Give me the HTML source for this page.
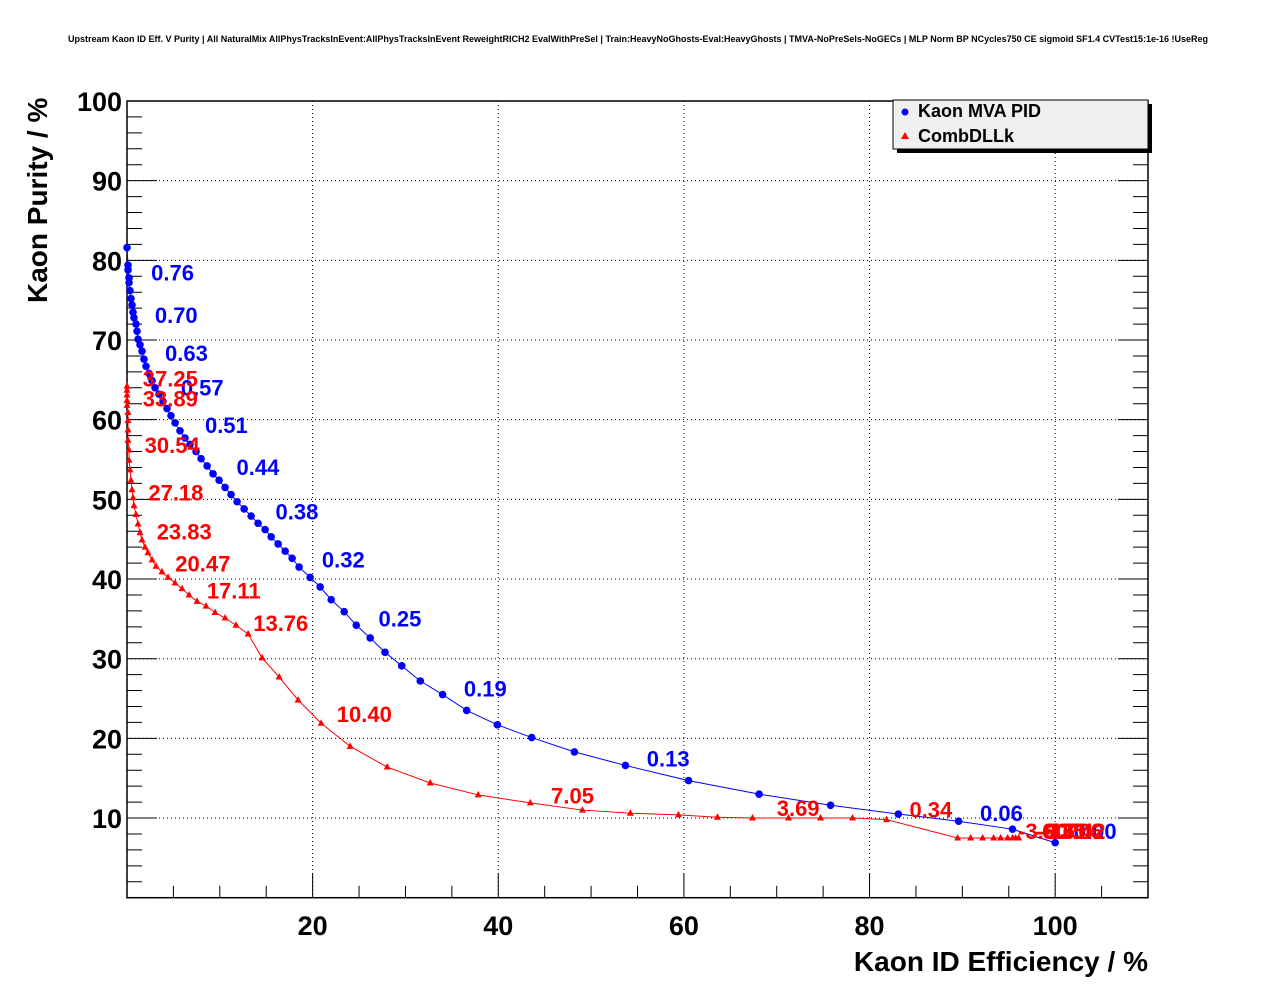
<!DOCTYPE html>
<html><head><meta charset="utf-8"><style>
body{margin:0;background:#fff}
svg text{font-family:"Liberation Sans",Arial,sans-serif;font-weight:bold}
</style></head><body>
<svg id="c" width="1276" height="996" xmlns="http://www.w3.org/2000/svg">
<text x="638" y="42" font-size="9" text-anchor="middle">Upstream Kaon ID Eff. V Purity | All NaturalMix AllPhysTracksInEvent:AllPhysTracksInEvent ReweightRICH2 EvalWithPreSel | Train:HeavyNoGhosts-Eval:HeavyGhosts | TMVA-NoPreSels-NoGECs | MLP Norm BP NCycles750 CE sigmoid SF1.4 CVTest15:1e-16 !UseReg</text>
<g id="grid"></g><g id="axes"></g><g id="series"></g>
<text transform="translate(47,303) rotate(-90)" font-size="28" text-anchor="start">Kaon Purity / %</text>
<text x="1148" y="971" font-size="28" text-anchor="end">Kaon ID Efficiency / %</text>
<g>
<rect x="897" y="104" width="255" height="49" fill="#000"/>
<rect x="893" y="100" width="255" height="49" fill="#f0f0f0" stroke="#000" stroke-width="1"/>
<circle cx="905" cy="112" r="3.5" fill="#0000ff"/>
<text x="918" y="117" font-size="18">Kaon MVA PID</text>
<polygon points="905,132 909,139 901,139" fill="#ff0000"/>
<text x="918" y="142" font-size="18">CombDLLk</text>
</g>
</svg>
<script>
const blueX=[0,0.11,0.11,0.22,0.22,0.32,0.43,0.54,0.65,0.75,0.97,1.08,1.19,1.40,1.62,1.83,2.05,2.37,2.70,3.02,3.45,3.88,4.31,4.74,5.18,5.71,6.25,6.79,7.44,7.98,8.63,9.27,9.92,10.57,11.21,11.86,12.62,13.37,14.12,14.88,15.53,16.28,17.04,17.79,18.54,19.73,20.81,22.0,23.4,24.7,26.2,27.8,29.6,31.6,34.0,36.6,39.9,43.6,48.2,53.7,60.5,68.1,75.8,83.1,89.6,95.4,100];
const blueY=[81.6,79.4,78.8,77.8,77.2,76.2,75.2,74.4,73.5,72.8,72.0,71.1,70.1,69.4,68.6,67.6,66.7,65.8,64.9,64.0,63.2,62.3,61.4,60.5,59.6,58.6,57.7,56.9,56.0,55.1,54.2,53.2,52.4,51.5,50.6,49.7,48.8,47.9,47.0,46.2,45.3,44.4,43.5,42.6,41.5,40.2,39.0,37.4,35.9,34.2,32.6,30.8,29.1,27.2,25.5,23.5,21.7,20.1,18.3,16.6,14.7,13.0,11.6,10.5,9.6,8.6,6.9];
const redX=[0,0,0,0,0,0.11,0.11,0.11,0.11,0.22,0.22,0.32,0.43,0.54,0.65,0.75,0.97,1.19,1.40,1.62,1.94,2.26,2.70,3.13,3.77,4.42,5.18,5.93,6.69,7.55,8.52,9.49,10.57,11.75,13.05,14.56,16.39,18.44,20.92,24.04,28.03,32.67,37.84,43.45,49.06,54.23,59.41,63.61,67.39,71.27,74.72,78.17,81.83,89.49,90.89,92.18,93.37,94.12,94.88,95.42,95.74,96.07];
const redY=[64.2,63.7,63.1,62.4,61.8,60.9,59.9,58.7,57.4,56.2,54.9,53.7,52.4,51.2,50.2,49.2,48.1,46.9,45.8,44.9,44.0,43.3,42.4,41.6,40.9,40.2,39.5,38.8,38.0,37.2,36.6,35.8,35.1,34.2,33.1,30.1,27.7,24.8,21.9,19.0,16.4,14.4,12.9,11.9,11.0,10.6,10.4,10.1,10.0,10.0,10.0,10.0,9.8,7.5,7.5,7.5,7.5,7.5,7.5,7.5,7.5,7.5];
const blueLabels=["0.76","0.70","0.63","0.57","0.51","0.44","0.38","0.32","0.25","0.19","0.13","0.06","0.00"];
const blueLabelX=[2.6,3.0,4.1,5.8,8.4,11.8,16.0,21.0,27.1,36.3,56.0,91.9,102.0];
const blueLabelY=[78.2,72.9,68.1,63.8,59.1,53.8,48.2,42.2,34.8,26.0,17.2,10.4,8.1];
const redLabels=["37.25","33.89","30.54","27.18","23.83","20.47","17.11","13.76","10.40","7.05","3.69","0.34","-3.00","-6.35","-9.71","-13.06","-16.42"];
const redLabelX=[1.7,1.7,1.9,2.3,3.2,5.2,8.6,13.6,22.6,45.7,70.0,84.3,96.0,97.8,98.1,98.4,98.7];
const redLabelY=[64.9,62.4,56.6,50.6,45.7,41.7,38.3,34.2,22.8,12.6,11.0,10.8,8.1,8.1,8.1,8.1,8.1];
const yTicks=[10,20,30,40,50,60,70,80,90,100];
const xTicks=[20,40,60,80,100];
const L=127,R=1148,T=101,B=897.7,XMAX=110,YMAX=100;
const sx=v=>L+(v/XMAX)*(R-L), sy=v=>B-(v/YMAX)*(B-T);
const NS="http://www.w3.org/2000/svg";
function mk(tag,parent,attrs){const e=document.createElementNS(NS,tag);for(const k in attrs)e.setAttribute(k,attrs[k]);parent.appendChild(e);return e;}
const grid=document.getElementById('grid'),axes=document.getElementById('axes'),ser=document.getElementById('series');
yTicks.forEach(v=>{const g=mk('line',grid,{x1:L,x2:R,y1:sy(v),y2:sy(v),stroke:'#000','stroke-dasharray':'1,3','stroke-width':1});

const t=mk('text',axes,{x:L-5,y:sy(v)+10,'font-size':27,'text-anchor':'end'});t.textContent=v;
});
xTicks.forEach(v=>{const g=mk('line',grid,{x1:sx(v),x2:sx(v),y1:T,y2:B,stroke:'#000','stroke-dasharray':'1,3','stroke-width':1});

const t=mk('text',axes,{x:sx(v),y:935,'font-size':27,'text-anchor':'middle'});t.textContent=v;
});
let tk='';
for(let v=0;v<=YMAX;v+=2){const len=v%10===0?30:15;tk+=`M${L},${sy(v)}h${len}M${R},${sy(v)}h${-len}`;}
for(let v=0;v<=XMAX;v+=5){const len=v%20===0?24:12;tk+=`M${sx(v)},${B}v${-len}`;}
const ticks=mk('path',axes,{d:tk,stroke:'#000','stroke-width':1,fill:'none'});

const frame=mk('rect',axes,{x:L,y:T,width:R-L,height:B-T,fill:'none',stroke:'#000','stroke-width':1.5});

function series(X,Y,col,tri,name){
 const pl=mk('polyline',ser,{points:X.map((x,i)=>sx(x)+','+sy(Y[i])).join(' '),fill:'none',stroke:col,'stroke-width':1});
 
 X.forEach((x,i)=>{const cx=sx(x),cy=sy(Y[i]);let m;
  if(tri)m=mk('polygon',ser,{points:`${cx},${cy-4} ${cx+3.5},${cy+2.5} ${cx-3.5},${cy+2.5}`,fill:col});
  else m=mk('circle',ser,{cx:cx,cy:cy,r:3.8,fill:col});
  });
}
series(redX,redY,'#ff0000',true,'combdllk');
series(blueX,blueY,'#0000ff',false,'mva');
function labels(txt,X,Y,col,name){txt.forEach((s,i)=>{const t=mk('text',ser,{x:sx(X[i]),y:sy(Y[i])+6,'font-size':22,fill:col});t.textContent=s;
 });}
labels(blueLabels,blueLabelX,blueLabelY,'#0000ff','mva');
labels(redLabels,redLabelX,redLabelY,'#ff0000','combdllk');
</script>
</body></html>
